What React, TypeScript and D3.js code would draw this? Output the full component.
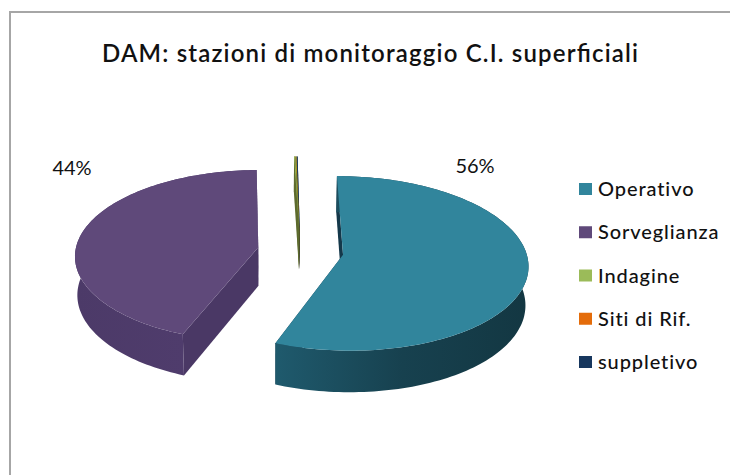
import * as d3 from "d3";
import React from "react";

const categories = ["Operativo", "Sorveglianza", "Indagine", "Siti di Rif.", "suppletivo"];
const values = [56, 43.7, 0.1, 0.1, 0.1];
const topColors = ["#31859c", "#5f497a", "#9bbb59", "#b59a1e", "#17375e"];
const legendColors = ["#31859c", "#5f497a", "#9bbb59", "#e46c0a", "#17375e"];
const wallColors = ["#14384a", "#4a3865", "#5d6b2e", "#5a5020", "#10263f"];
const labels = ["56%", "44%"];

const W = 730;
const H = 475;
const cx = 300.5;
const cy = 251;
const vanishX = 275;
const rx = 183;
const ry = 85.7;
const persp = 0.098;
const depth = 39;
const shrink = 0.012;
const explode = 43;

// world coords: x, y in px on the pie plane, z 0 = top face, 1 = bottom face
const project = (x: number, y: number, z: number): [number, number] => {
  const s = 1 / (1 - (persp * y) / ry + shrink * z);
  return [vanishX + (cx - vanishX + x) * s, cy + y * s + depth * z * s];
};

const line = d3.line<[number, number]>();

export default function App() {
  const arcs = d3.pie<number>().sort(null)(values);
  const legendY = d3.scalePoint<string>().domain(categories).range([189, 362]);

  const slices = arcs.map((a, i) => {
    const mid = (a.startAngle + a.endAngle) / 2;
    const ox = Math.sin(mid) * explode;
    const oy = (-Math.cos(mid) * explode * ry) / rx;
    const steps = Math.max(2, Math.ceil((a.endAngle - a.startAngle) * 40));
    const angle = d3.scaleLinear().domain([0, steps]).range([a.startAngle, a.endAngle]);
    const rim = (z: number) =>
      d3.range(steps + 1).map((k) =>
        project(ox + Math.sin(angle(k)) * rx, oy - Math.cos(angle(k)) * ry, z),
      );
    const apex = (z: number) => project(ox, oy, z);
    const top = rim(0);
    const bottom = rim(1);
    return {
      i,
      face: line([apex(0), ...top])! + "Z",
      side: line([...top, ...[...bottom].reverse()])! + "Z",
      wallA: line([apex(0), top[0], bottom[0], apex(1)])! + "Z",
      wallB: line([apex(0), top[steps], bottom[steps], apex(1)])! + "Z",
    };
  });

  // back to front: thin slices, then purple, then teal
  const order = [4, 3, 2, 1, 0];

  return (
    <svg
      width={W}
      height={H}
      style={{ position: "absolute", left: 0, top: 0, background: "#fff" }}
      fontFamily="Lato, 'Open Sans', sans-serif"
    >
      <defs>
        <linearGradient id="side0" x1="0" x2="1" y1="0" y2="0">
          <stop offset="0" stopColor="#1f5a6d" />
          <stop offset="0.5" stopColor="#17414f" />
          <stop offset="1" stopColor="#133742" />
        </linearGradient>
        <linearGradient id="side1" x1="0" x2="1" y1="0" y2="0">
          <stop offset="0" stopColor="#4c3a68" />
          <stop offset="0.6" stopColor="#4f3c6c" />
          <stop offset="1" stopColor="#463560" />
        </linearGradient>
      </defs>
      {/* frame only shows on the top and left, the rest runs off the crop */}
      <path d={`M10,${H}V12H${W}`} fill="none" stroke="#a6a6a6" strokeWidth={2} />
      <text x={370} y={62} textAnchor="middle" fontSize={24} fontWeight={600} fill="#111"
        textLength={536} lengthAdjust="spacing">
        DAM: stazioni di monitoraggio C.I. superficiali
      </text>

      {order.map((i) => {
        const s = slices[i];
        return (
          <g key={categories[i]}>
            <path d={s.wallA} fill={wallColors[i]} />
            <path d={s.wallB} fill={wallColors[i]} />
            <path d={s.side} fill={i < 2 ? `url(#side${i})` : wallColors[i]} />
            <path d={s.face} fill={topColors[i]} />
          </g>
        );
      })}

      <text x={72} y={175} textAnchor="middle" fontSize={20} fill="#111">{labels[1]}</text>
      <text x={475} y={173} textAnchor="middle" fontSize={20} fill="#111">{labels[0]}</text>

      {categories.map((c, i) => {
        const y = legendY(c)!;
        return (
          <g key={c}>
            <rect x={579} y={y - 6} width={13} height={12} fill={legendColors[i]} />
            <text x={598} y={y + 7} fontSize={20} fontWeight={500} fill="#111" letterSpacing={0.9}>{c}</text>
          </g>
        );
      })}
    </svg>
  );
}
